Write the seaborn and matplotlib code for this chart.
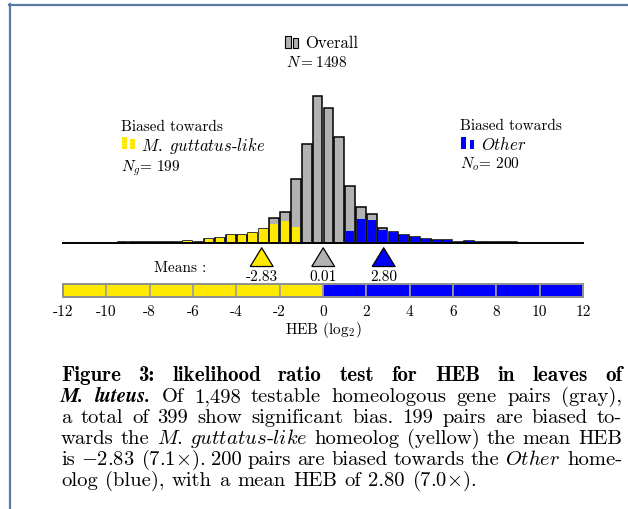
import numpy as np
import pandas as pd
import matplotlib
matplotlib.use("Agg")
import matplotlib.pyplot as plt
from matplotlib.patches import Rectangle
from matplotlib.lines import Line2D
import seaborn as sns

# ---------------- data ----------------
bin_start, bin_stop, bin_width = -9.5, 9.0, 0.5
gray_counts = [1, 1, 1, 1, 1, 2, 4, 1, 7, 9, 14, 14, 17, 25,
               44, 55, 115, 177, 262, 241, 190,
               102, 65, 52, 26, 19, 15, 10, 7, 6, 5, 2, 3, 1, 1, 1, 1]
yellow_counts = [1, 1, 1, 1, 1, 2, 4, 1, 7, 9, 14, 14, 17, 25,
                 34, 39, 28, 0, 0, 0, 0,
                 0, 0, 0, 0, 0, 0, 0, 0, 0, 0, 0, 0, 0, 0, 0, 0]
blue_counts = [0] * 21 + [21, 43, 41, 24, 19, 15, 10, 7, 6, 5, 2, 3, 1, 1, 1, 1]
mean_values = [-2.83, 0.01, 2.80]
mean_labels = ["-2.83", "0.01", "2.80"]
mean_groups = ["guttatus", "overall", "other"]
strip_ticks = [-12, -10, -8, -6, -4, -2, 0, 2, 4, 6, 8, 10, 12]
strip_tick_labels = ["-12", "-10", "-8", "-6", "-4", "-2", "0", "2", "4", "6", "8", "10", "12"]
N_overall, N_g, N_o = 1498, 199, 200

GRAY = "#b2b2b2"
YELLOW = "#ffe900"
BLUE = "#0000ff"
FRAME = "#5a7aa3"

W, H = 628, 510
plt.rcParams["mathtext.fontset"] = "cm"
plt.rcParams["axes.unicode_minus"] = False
fig = plt.figure(figsize=(W / 100, H / 100), dpi=100)
fig.patch.set_facecolor("white")


def F(x, y):
    return x / W, 1 - y / H


def axes_px(x0, y_top, x1, y_bot):
    return fig.add_axes([x0 / W, 1 - y_bot / H, (x1 - x0) / W, (y_bot - y_top) / H])


centers = bin_start + bin_width * (np.arange(len(gray_counts)) + 0.5)
df = pd.DataFrame({"heb": centers, "gray": gray_counts,
                   "yellow": yellow_counts, "blue": blue_counts})
hist_kw = dict(binwidth=bin_width, binrange=(bin_start, bin_stop))

# ---------------- histogram ----------------
counts_per_px = 1.786
ax = axes_px(63, 20, 583, 244)
sns.histplot(data=df, x="heb", weights="gray", color=GRAY, shrink=0.88,
             edgecolor="black", linewidth=1.1, alpha=1, ax=ax, **hist_kw)
sns.histplot(data=df, x="heb", weights="yellow", color=YELLOW,
             edgecolor="none", linewidth=0, alpha=1, shrink=0.78, ax=ax, **hist_kw)
sns.histplot(data=df, x="heb", weights="blue", color=BLUE,
             edgecolor="none", linewidth=0, alpha=1, shrink=0.78, ax=ax, **hist_kw)
ax.set_xlim(-12, 12)
ax.set_ylim(0, 224 * counts_per_px)
ax.set_xticks([]); ax.set_yticks([])
ax.set_xlabel(""); ax.set_ylabel("")
for s in ["top", "left", "right"]:
    ax.spines[s].set_visible(False)
ax.spines["bottom"].set_linewidth(1.4)
ax.spines["bottom"].set_color("black")
ax.patch.set_alpha(0)

# ---------------- means ----------------
axm = axes_px(63, 246, 583, 284)
mdf = pd.DataFrame({"x": mean_values, "y": [0.68] * 3, "g": mean_groups})
tri = [(-1, -0.82), (1, -0.82), (0, 0.82), (-1, -0.82)]
sns.scatterplot(data=mdf, x="x", y="y", hue="g", marker=tri, s=270,
                palette={"guttatus": YELLOW, "overall": GRAY, "other": BLUE},
                edgecolor="black", linewidth=0.9, legend=False, ax=axm, zorder=3)
for xv, lab in zip(mean_values, mean_labels):
    axm.text(xv, 0.18, lab, family="cmr10", fontsize=11, ha="center", va="center")
axm.set_xlim(-12, 12); axm.set_ylim(0, 1)
axm.axis("off")
fig.text(*F(180, 268), "Means :", family="cmr10", fontsize=11, ha="center", va="center")

# ---------------- colour strip ----------------
axs = axes_px(63, 285, 583, 298)
seg_centers = np.array(strip_ticks[:-1]) + 1
seg_colors = [YELLOW if c < 0 else BLUE for c in seg_centers]
axs.bar(seg_centers, 1, width=2, color=seg_colors, edgecolor="#a0a0a0", linewidth=1.2)
axs.set_xlim(-12, 12); axs.set_ylim(0, 1)
axs.set_yticks([])
axs.set_xticks(strip_ticks)
axs.set_xticklabels(strip_tick_labels, family="cmr10", fontsize=11)
axs.tick_params(axis="x", length=0, pad=5)
for s in axs.spines.values():
    s.set_color("#909090"); s.set_linewidth(1.4)
fig.text(*F(323, 330), r"HEB (log$_2$)", family="cmr10", fontsize=11,
         ha="center", va="center")

# ---------------- legends ----------------
def rect(x0, y0, x1, y1, fc, ec="none", lw=0):
    fig.add_artist(Rectangle(F(x0, y1), (x1 - x0) / W, (y1 - y0) / H,
                             transform=fig.transFigure, facecolor=fc,
                             edgecolor=ec, linewidth=lw))

rect(285, 37, 291, 49, GRAY, "black", 0.8)
rect(293, 39, 298, 49, GRAY, "black", 0.8)
fig.text(*F(305, 48.5), "Overall", family="cmr10", fontsize=12, va="baseline")
fig.text(*F(286, 67), r"$N = %d$" % N_overall, family="cmr10", fontsize=11, va="baseline")

rect(121.5, 137.5, 126.5, 149.5, YELLOW)
rect(130, 140, 134.5, 149.5, YELLOW)
fig.text(*F(121, 131.5), "Biased towards", family="cmr10", fontsize=11, va="baseline")
fig.text(*F(141, 150.5), r"$\mathit{M.\ guttatus}$-$\mathit{like}$", family="cmr10",
         fontsize=12, va="baseline")
fig.text(*F(121, 171.5), r"$N_g$= %d" % N_g, family="cmr10", fontsize=11, va="baseline")

rect(461, 138, 466, 150, BLUE)
rect(469.5, 141, 474, 150, BLUE)
fig.text(*F(460, 130.5), "Biased towards", family="cmr10", fontsize=11, va="baseline")
fig.text(*F(481, 149.5), r"$\mathit{Other}$", family="cmr10", fontsize=12, va="baseline")
fig.text(*F(460, 168.5), r"$N_o$= %d" % N_o, family="cmr10", fontsize=11, va="baseline")

# ---------------- frame ----------------
fig.add_artist(Line2D([9 / W, 1.0], [1 - 5.5 / H] * 2, transform=fig.transFigure,
                      color=FRAME, linewidth=1.6))
fig.add_artist(Line2D([9.5 / W] * 2, [0, 1 - 5 / H], transform=fig.transFigure,
                      color=FRAME, linewidth=1.6))

# ---------------- caption ----------------
CAP = 14.8
BOLD_CAP = 15.1


def tok_text(s, style, size):
    kw = dict(fontsize=size, va="baseline", ha="left")
    if style == "b":
        kw["family"] = "cmb10"
        kw["fontsize"] = size * BOLD_CAP / CAP
    elif style == "bi":
        kw.update(family="STIXGeneral", weight="bold", style="italic")
    elif style == "i":
        kw["family"] = "cmr10"
        parts = s.split("-")
        s = "-".join(r"$\mathit{%s}$" % p for p in parts)
    else:
        kw["family"] = "cmr10"
    return s, kw


def words(s, style="r"):
    return [(w, style) for w in s.split()]


lines = [
    words("Figure 3: likelihood ratio test for HEB in leaves of", "b"),
    words("M. luteus.", "bi") + words("Of 1,498 testable homeologous gene pairs (gray),"),
    words("a total of 399 show significant bias. 199 pairs are biased to-"),
    words("wards the") + words("M. guttatus-like", "i") + words("homeolog (yellow) the mean HEB"),
    [("is", "r"), (r"$-2.83$", "r"), (r"(7.1$\times$).", "r")] + words("200 pairs are biased towards the")
    + [("Other", "i"), ("home-", "r")],
    [("olog", "r"), ("(blue),", "r")] + words("with a mean HEB of 2.80") + [(r"(7.0$\times$).", "r")],
]

renderer = fig.canvas.get_renderer()
x_left, x_right = 61, 622
for i, line in enumerate(lines):
    yb = 381 + 21 * i
    size = CAP
    while True:
        arts = []
        for w, st in line:
            s, kw = tok_text(w, st, size)
            arts.append(fig.text(*F(x_left, yb), s, **kw))
        widths = [a.get_window_extent(renderer).width for a in arts]
        if i < len(lines) - 1:
            gap = (x_right - x_left - sum(widths)) / (len(arts) - 1)
        else:
            gap = size * 0.36 * 100 / 72
        if gap >= 3.5 or size < 9:
            break
        for a in arts:
            a.remove()
        size -= 0.3
    x = x_left
    for a, wd in zip(arts, widths):
        a.set_position(F(x, yb))
        x += wd + gap

fig.savefig("out.png", dpi=100, facecolor="white")
